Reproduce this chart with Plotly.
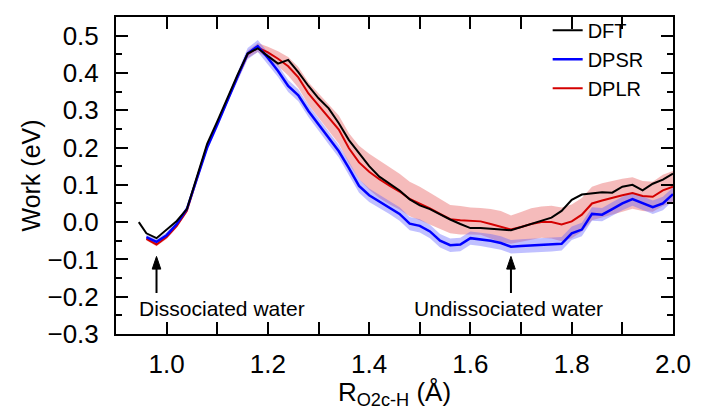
import numpy as np
import plotly.graph_objects as go

# ---- data ----
x_dft = [0.945, 0.96, 0.98, 1.00, 1.02, 1.04, 1.06, 1.08, 1.10, 1.12, 1.14, 1.16, 1.18,
         1.20, 1.22, 1.24, 1.26, 1.28, 1.30, 1.32, 1.34, 1.36, 1.38, 1.40, 1.42, 1.44,
         1.46, 1.48, 1.50, 1.52, 1.54, 1.56, 1.58, 1.60, 1.62, 1.64, 1.66, 1.68, 1.70,
         1.72, 1.74, 1.76, 1.78, 1.80, 1.82, 1.84, 1.86, 1.88, 1.90, 1.92, 1.94, 1.96,
         1.98, 2.00]
dft = [0.000, -0.030, -0.043, -0.020, 0.003, 0.035, 0.125, 0.210, 0.270, 0.335, 0.395,
       0.452, 0.466, 0.445, 0.425, 0.435, 0.402, 0.365, 0.332, 0.305, 0.265, 0.220,
       0.185, 0.150, 0.122, 0.103, 0.085, 0.061, 0.045, 0.035, 0.020, 0.007, -0.005,
       -0.016, -0.016, -0.017, -0.020, -0.022, -0.014, -0.005, 0.003, 0.012, 0.030,
       0.060, 0.074, 0.078, 0.080, 0.079, 0.095, 0.100, 0.085, 0.103, 0.114, 0.130]

x_dp = [0.96, 0.98, 1.00, 1.02, 1.04, 1.06, 1.08, 1.10, 1.12, 1.14, 1.16, 1.18,
        1.20, 1.22, 1.24, 1.26, 1.28, 1.30, 1.32, 1.34, 1.36, 1.38, 1.40, 1.42, 1.44,
        1.46, 1.48, 1.50, 1.52, 1.54, 1.56, 1.58, 1.60, 1.62, 1.64, 1.66, 1.68, 1.70,
        1.72, 1.74, 1.76, 1.78, 1.80, 1.82, 1.84, 1.86, 1.88, 1.90, 1.92, 1.94, 1.96,
        1.98, 2.00]
dplr = [-0.045, -0.060, -0.040, -0.010, 0.030, 0.120, 0.205, 0.265, 0.330, 0.390, 0.450,
        0.468, 0.455, 0.438, 0.418, 0.388, 0.345, 0.312, 0.280, 0.248, 0.198, 0.160,
        0.135, 0.115, 0.098, 0.082, 0.062, 0.050, 0.037, 0.022, 0.008, 0.005, 0.003,
        0.002, -0.005, -0.012, -0.020, -0.013, -0.005, 0.000, 0.000, -0.006, 0.002,
        0.020, 0.050, 0.058, 0.066, 0.072, 0.078, 0.070, 0.068, 0.085, 0.095]
dplr_err = [0.004, 0.005, 0.005, 0.005, 0.005, 0.006, 0.006, 0.006, 0.007, 0.008, 0.010,
            0.012, 0.015, 0.020, 0.025, 0.028, 0.030, 0.033, 0.035, 0.038, 0.040, 0.045,
            0.048, 0.050, 0.050, 0.048, 0.046, 0.045, 0.042, 0.040, 0.038, 0.038, 0.036,
            0.036, 0.040, 0.042, 0.038, 0.040, 0.042, 0.042, 0.044, 0.045, 0.045, 0.045,
            0.045, 0.046, 0.045, 0.044, 0.042, 0.040, 0.040, 0.042, 0.042]
dpsr = [-0.040, -0.053, -0.035, -0.005, 0.035, 0.120, 0.200, 0.262, 0.328, 0.390, 0.452,
        0.472, 0.440, 0.405, 0.365, 0.340, 0.298, 0.262, 0.225, 0.190, 0.145, 0.097,
        0.072, 0.055, 0.040, 0.022, -0.004, -0.010, -0.025, -0.050, -0.062, -0.060,
        -0.043, -0.046, -0.050, -0.056, -0.066, -0.064, -0.063, -0.062, -0.061, -0.058,
        -0.030, -0.020, 0.022, 0.020, 0.035, 0.050, 0.062, 0.050, 0.040, 0.050, 0.075]
dpsr_err = [0.006, 0.008, 0.008, 0.008, 0.008, 0.008, 0.008, 0.010, 0.010, 0.012, 0.015,
            0.016, 0.016, 0.016, 0.016, 0.016, 0.016, 0.016, 0.016, 0.017, 0.017, 0.018,
            0.018, 0.018, 0.018, 0.018, 0.018, 0.018, 0.018, 0.018, 0.018, 0.018, 0.018,
            0.018, 0.018, 0.018, 0.018, 0.018, 0.018, 0.018, 0.018, 0.018, 0.018, 0.018,
            0.018, 0.018, 0.018, 0.018, 0.018, 0.018, 0.018, 0.018, 0.018]

# annotation anchors: (arrow x, label x, label text)
arrow_x = [0.98, 1.68]
label_x = [1.109, 1.676]
label_text = ["Dissociated water", "Undissociated water"]
arrow_tip_y = -0.092
arrow_tail_y = -0.19
label_y = -0.232

x_tickvals = [1.0, 1.1, 1.2, 1.3, 1.4, 1.5, 1.6, 1.7, 1.8, 1.9, 2.0]
x_ticktext = ["1.0", "", "1.2", "", "1.4", "", "1.6", "", "1.8", "", "2.0"]
y_tickvals = [-0.3, -0.2, -0.1, 0.0, 0.1, 0.2, 0.3, 0.4, 0.5]
y_ticktext = ["\u22120.3", "\u22120.2", "\u22120.1", "0.0", "0.1", "0.2", "0.3", "0.4", "0.5"]

FONT = "Liberation Sans, Arial, sans-serif"

fig = go.Figure()

def band(x, m, e, color):
    x = np.asarray(x); m = np.asarray(m); e = np.asarray(e)
    xs = np.concatenate([x, x[::-1]])
    ys = np.concatenate([m + e, (m - e)[::-1]])
    return go.Scatter(x=xs, y=ys, fill="toself", fillcolor=color, mode="lines",
                      line=dict(width=0), showlegend=False, hoverinfo="skip")

fig.add_trace(band(x_dp, dplr, dplr_err, "rgba(236,120,120,0.5)"))
fig.add_trace(band(x_dp, dpsr, dpsr_err, "rgba(90,90,255,0.38)"))

fig.add_trace(go.Scatter(x=x_dp, y=dplr, mode="lines", name="DPLR", legendgroup="c",
                         line=dict(color="#D40000", width=2), legendrank=3))
fig.add_trace(go.Scatter(x=x_dp, y=dpsr, mode="lines", name="DPSR", legendgroup="b",
                         line=dict(color="#0000FF", width=2.5), legendrank=2))
fig.add_trace(go.Scatter(x=x_dft, y=dft, mode="lines", name="DFT", legendgroup="a",
                         line=dict(color="#000000", width=2), legendrank=1))

# arrows (shaft + head, pointing up) and labels
head_h = 0.034
head_w = 0.0085
for xa, xl, txt in zip(arrow_x, label_x, label_text):
    fig.add_shape(type="line", xref="x", yref="y", x0=xa, x1=xa,
                  y0=arrow_tail_y, y1=arrow_tip_y - head_h * 0.6,
                  line=dict(color="black", width=2))
    fig.add_shape(type="path", xref="x", yref="y",
                  path=f"M {xa - head_w} {arrow_tip_y - head_h} L {xa} {arrow_tip_y} "
                       f"L {xa + head_w} {arrow_tip_y - head_h} Z",
                  fillcolor="black", line=dict(color="black", width=1))
    fig.add_annotation(x=xl, y=label_y, xref="x", yref="y", text=txt,
                       showarrow=False, font=dict(size=21, color="black", family=FONT))

fig.update_layout(
    width=702, height=410,
    margin=dict(l=116, r=22, t=11, b=76),
    paper_bgcolor="white", plot_bgcolor="white",
    font=dict(family=FONT, size=26, color="black"),
    showlegend=True,
    legend=dict(x=0.775, y=1.02, xanchor="left", yanchor="top",
                font=dict(size=20, family=FONT), bgcolor="rgba(0,0,0,0)",
                tracegroupgap=0, traceorder="grouped"),
)
fig.update_xaxes(range=[0.9, 2.0], showline=True, linecolor="black", linewidth=2,
                 mirror="ticks", ticks="inside", ticklen=12, tickwidth=1.5,
                 tickcolor="black", tickvals=x_tickvals, ticktext=x_ticktext,
                 showgrid=False, zeroline=False, ticklabelstandoff=6,
                 title=dict(text="R<sub>O2c-H</sub> (Å)", font=dict(size=26), standoff=0))
fig.update_yaxes(range=[-0.3, 0.55], showline=True, linecolor="black", linewidth=2,
                 mirror="ticks", ticks="inside", ticklen=12, tickwidth=1.5,
                 tickcolor="black", tickvals=y_tickvals, ticktext=y_ticktext,
                 minor=dict(tickvals=[-0.25, -0.15, -0.05, 0.05, 0.15, 0.25, 0.35, 0.45],
                            ticks="inside", ticklen=6, tickwidth=1.5, tickcolor="black"),
                 showgrid=False, zeroline=False, ticklabelstandoff=10,
                 title=dict(text="Work (eV)", font=dict(size=25), standoff=0))

fig.write_html("out.html", config={"displayModeBar": False},
               post_script="document.body.style.margin='0';"
                           "document.body.style.overflow='hidden';")
